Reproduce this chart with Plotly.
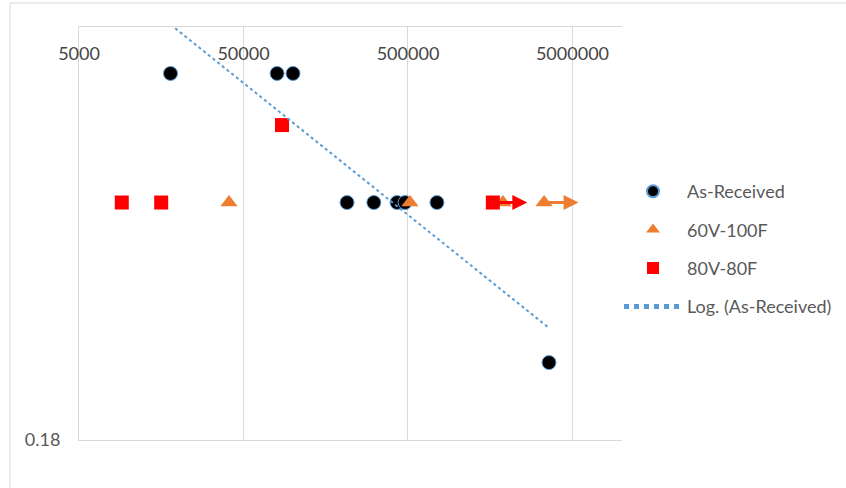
import numpy as np
import plotly.graph_objects as go

# Cycles to failure and stress level per test condition
as_received_cycles = [18000, 80000, 100000, 213000, 310000, 429000, 480000, 750000, 3600000]
as_received_stress = [0.251, 0.251, 0.251, 0.226, 0.226, 0.226, 0.226, 0.226, 0.195]

v60_100f_cycles = [40800, 514000, 1890000, 3360000]
v60_100f_stress = [0.226, 0.226, 0.226, 0.226]

v80_80f_cycles = [9100, 15800, 85700, 1640000]
v80_80f_stress = [0.226, 0.226, 0.241, 0.226]

# Run-outs (test stopped without failure), drawn with arrows
v80_80f_runout = [(1640000, 0.226)]
v60_100f_runout = [(3360000, 0.226)]
runout_extend = 1.62

x_ticks = [5000, 50000, 500000, 5000000]
y_ticks = [0.18]
x_range = [5000, 10000000]
y_range = [0.18, 0.26]

GRID = "#d9d9d9"
TEXT = "#595959"
FONT = "Lato, 'Open Sans', sans-serif"

# Logarithmic trendline y = a*ln(x) + b fitted to the as-received data
a, b = np.polyfit(np.log(as_received_cycles), as_received_stress, 1)
trend_x = np.array([min(as_received_cycles), max(as_received_cycles)], dtype=float)
trend_y = a * np.log(trend_x) + b

fig = go.Figure()
fig.add_trace(go.Scatter(
    x=as_received_cycles, y=as_received_stress, mode="markers", name="As-Received",
    legendgroup="g1",
    marker=dict(symbol="circle", size=14, color="black", line=dict(color="#5b9bd5", width=1)),
))
fig.add_trace(go.Scatter(
    x=v60_100f_cycles, y=v60_100f_stress, mode="markers", name="60V-100F",
    legendgroup="g2",
    marker=dict(symbol="triangle-up", size=15, color="#ed7d31"),
))
fig.add_trace(go.Scatter(
    x=v80_80f_cycles, y=v80_80f_stress, mode="markers", name="80V-80F",
    legendgroup="g3",
    marker=dict(symbol="square", size=14, color="#ff0000"),
))
fig.add_trace(go.Scatter(
    x=trend_x, y=trend_y, mode="lines", name="Log. (As-Received)",
    legendgroup="g4",
    line=dict(color="#5b9bd5", width=2, dash="dot"),
))

annotations = []
for pts, color in ((v80_80f_runout, "#ff0000"), (v60_100f_runout, "#ed7d31")):
    for cx, cy in pts:
        annotations.append(dict(
            x=np.log10(cx * runout_extend), y=cy, ax=np.log10(cx), ay=cy,
            xref="x", yref="y", axref="x", ayref="y", text="",
            showarrow=True, arrowhead=2, arrowsize=1.0, arrowwidth=3, arrowcolor=color,
        ))

# Outer chart border
left_px, top_px, plot_w, plot_h = 79, 27, 543, 413
shapes = [dict(
    type="rect", xref="paper", yref="paper",
    x0=(10 - left_px) / plot_w, x1=(900 - left_px) / plot_w,
    y0=(top_px + plot_h - 3) / plot_h, y1=(top_px + plot_h - 520) / plot_h,
    line=dict(color=GRID, width=1), fillcolor="rgba(0,0,0,0)", layer="below",
)]

fig.update_layout(
    width=846, height=488,
    margin=dict(l=79, r=224, t=27, b=48, autoexpand=False),
    paper_bgcolor="white", plot_bgcolor="white",
    font=dict(family=FONT, size=18, color=TEXT),
    showlegend=True,
    legend=dict(x=(619 - left_px) / plot_w, y=(440 - 173) / plot_h, xanchor="left", yanchor="top",
                tracegroupgap=12, itemwidth=58, itemsizing="constant",
                font=dict(size=18, color=TEXT)),
    annotations=annotations,
    shapes=shapes,
)
fig.update_xaxes(
    type="log", range=[np.log10(x_range[0]), np.log10(x_range[1])],
    side="top", tickvals=x_ticks, ticktext=[str(v) for v in x_ticks],
    ticklabelposition="inside", ticklabelstandoff=21, ticklabeloverflow="allow", ticks="",
    showgrid=True, gridcolor=GRID, gridwidth=1,
    showline=True, linecolor=GRID, linewidth=1, mirror=True, zeroline=False,
)
fig.update_yaxes(
    range=y_range, tickvals=y_ticks, ticktext=["0.18"], ticks="",
    ticklabelstandoff=14, showgrid=False,
    showline=True, linecolor=GRID, linewidth=1, zeroline=False,
)

fig.write_html("out.html")
